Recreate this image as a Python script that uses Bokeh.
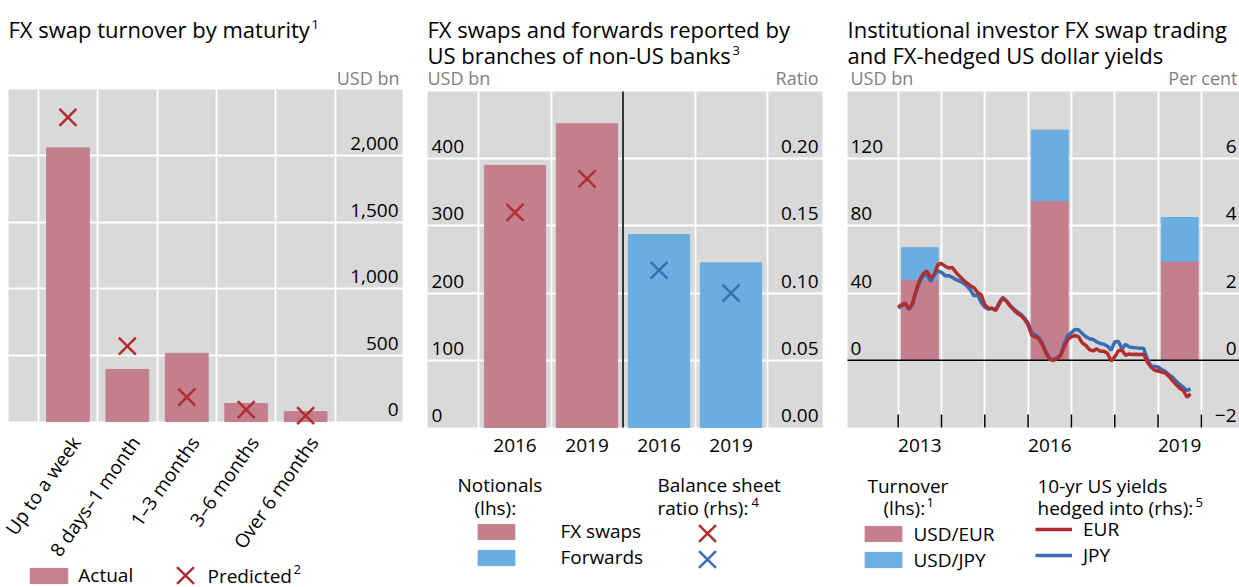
import math
import pandas as pd
from bokeh.plotting import figure
from bokeh.models import Range1d, FixedTicker, Grid, Label, Legend, LegendItem, BoxAnnotation
from bokeh.layouts import row
from bokeh.embed import file_html
from bokeh.resources import INLINE
from bokeh.core.properties import value

FONT = "Open Sans"
PINK = "#C47F8F"
BLUE = "#6AADE0"
RED = "#B22E2E"
DBLUE = "#3B6DB5"
BG = "#D9D9D9"
GREY_TXT = "#7F7F7F"

# ---------------- data ----------------
# Panel 1
maturities = ["Up to a week", "8 days\u20131 month", "1\u20133 months", "3\u20136 months", "Over 6 months"]
actual = [2060, 392, 513, 136, 75]
predicted = [2290, 568, 183, 90, 45]
p1_ticks = [0, 500, 1000, 1500, 2000]

# Panel 2
years2 = ["2016", "2019"]
fx_swaps = [390, 452]
forwards = [287, 245]
ratio_swaps = [0.160, 0.185]
ratio_forwards = [0.117, 0.100]
p2_left_ticks = [0, 100, 200, 300, 400]
p2_right_ticks = [0.00, 0.05, 0.10, 0.15, 0.20]

# Panel 3
survey_years = [2013, 2016, 2019]
turnover_eur = [48, 95, 59]
turnover_jpy = [19, 42, 26]
yield_start = "2013-01"
yield_eur = [1.58, 1.66, 1.70, 1.52, 1.70, 2.10, 2.40, 2.58, 2.66, 2.45,
             2.55, 2.85, 2.88, 2.80, 2.75, 2.76, 2.62, 2.50, 2.40, 2.30,
             2.22, 2.16, 2.02, 1.95, 1.65, 1.55, 1.55, 1.48, 1.68, 1.85,
             1.76, 1.62, 1.50, 1.40, 1.33, 1.22, 1.05, 0.74, 0.70, 0.64,
             0.45, 0.20, 0.02, 0.00, 0.05, 0.13, 0.40, 0.62, 0.70, 0.74,
             0.70, 0.52, 0.44, 0.32, 0.28, 0.34, 0.27, 0.27, 0.20, -0.02,
             0.10, 0.28, 0.30, 0.15, 0.19, 0.17, 0.18, 0.17, 0.18, -0.05,
             -0.20, -0.29, -0.32, -0.35, -0.38, -0.48, -0.60, -0.72, -0.83, -0.90,
             -1.10, -1.00]
yield_jpy = [1.55, 1.63, 1.67, 1.50, 1.68, 2.05, 2.35, 2.52, 2.55, 2.35,
             2.55, 2.66, 2.62, 2.52, 2.52, 2.47, 2.40, 2.36, 2.30, 2.22,
             2.10, 1.92, 1.95, 1.72, 1.58, 1.52, 1.55, 1.50, 1.72, 1.88,
             1.76, 1.63, 1.53, 1.44, 1.37, 1.26, 1.10, 0.82, 0.76, 0.68,
             0.50, 0.25, 0.05, 0.02, 0.08, 0.16, 0.50, 0.74, 0.82, 0.92,
             0.90, 0.80, 0.70, 0.64, 0.62, 0.55, 0.50, 0.48, 0.42, 0.30,
             0.55, 0.56, 0.35, 0.47, 0.40, 0.38, 0.37, 0.36, 0.36, 0.05,
             -0.17, -0.18, -0.20, -0.28, -0.33, -0.43, -0.50, -0.62, -0.72, -0.80,
             -0.90, -0.85]
p3_left_ticks = [0, 40, 80, 120]
p3_right_ticks = [-2, 0, 2, 4, 6]
p3_year_labels = [2013, 2016, 2019]

# ---------------- helpers ----------------
H = 587


class Panel:
    """A figure whose frame is the whole canvas; the grey plot area is mapped to data."""

    def __init__(self, c0, c1, px0, px1, py0, py1, xd0, xd1, yd0, yd1):
        self.c0, self.px0, self.py0, self.py1 = c0, px0, py0, py1
        self.xd0, self.xd1, self.yd0, self.yd1 = xd0, xd1, yd0, yd1
        self.ux = (xd1 - xd0) / (px1 - px0)
        self.uy = (yd1 - yd0) / (py1 - py0)
        xr = Range1d(xd0 - (px0 - c0) * self.ux, xd1 + (c1 - px1) * self.ux)
        yr = Range1d(yd0 - (H - py1) * self.uy, yd1 + py0 * self.uy)
        p = figure(width=c1 - c0, height=H, x_range=xr, y_range=yr, toolbar_location=None,
                   output_backend="svg", x_axis_type=None, y_axis_type=None, min_border=0)
        p.background_fill_color = "white"
        p.border_fill_color = "white"
        p.outline_line_color = None
        p.add_layout(BoxAnnotation(left=xd0, right=xd1, bottom=yd0, top=yd1, fill_color=BG,
                                   fill_alpha=1.0, line_color=None, level="underlay"))
        self.p = p

    def extra(self, name, r0, r1):
        ur = (r1 - r0) / (self.yd1 - self.yd0) * self.uy
        self.p.extra_y_ranges = {name: Range1d(r0 - (H - self.py1) * ur, r1 + self.py0 * ur)}

    def fx(self, x):
        return self.xd0 + (x - self.px0) * self.ux

    def fy(self, y):
        return self.yd0 + (self.py1 - y) * self.uy

    def grid(self, dim, ticks, color="white", width=1.8):
        self.p.add_layout(Grid(dimension=dim, ticker=FixedTicker(ticks=ticks),
                               grid_line_color=color, grid_line_width=width))

    def txt(self, x, y, text, size="19px", color="black", align="left", baseline="middle", angle=0):
        self.p.add_layout(Label(x=self.fx(x), y=self.fy(y), text=text, text_font=FONT,
                                text_font_size=size, text_color=color, text_align=align,
                                text_baseline=baseline, angle=angle))

    def legend(self, items, x1, top, height, gw, gh, standoff, spacing=0, lh=26):
        leg = Legend(items=[LegendItem(label=l, renderers=[r]) for l, r in items],
                     location=(x1 - self.c0, H - (top + height)), orientation="vertical",
                     glyph_width=gw, glyph_height=gh, label_standoff=standoff, label_height=lh,
                     padding=0, margin=0, spacing=spacing, border_line_color=None,
                     background_fill_alpha=0, label_text_font=FONT, label_text_font_size="19px",
                     label_text_color="black")
        self.p.add_layout(leg)


def tick_text(P, xs, ys, labels, align, xoff, range_name="default"):
    P.p.text(x=xs, y=ys, text=labels, y_range_name=range_name, text_font=value(FONT),
             text_font_size="19px", text_align=align, text_baseline="middle",
             x_offset=xoff, y_offset=-12, text_color="black")


# ---------------- panel 1 ----------------
P1 = Panel(0, 423, 8, 402, 89, 421, 0, 6.63, 0, 2500)
p1 = P1.p
xs1 = list(range(1, len(maturities) + 1))
P1.grid(0, [x - 0.5 for x in xs1] + [xs1[-1] + 0.5])
P1.grid(1, p1_ticks[1:])
r_act = p1.vbar(x=xs1, top=actual, width=0.72, color=PINK)
r_pred = p1.scatter(x=xs1, y=predicted, marker="x", size=24, line_color=RED, line_width=2.5)
tick_text(P1, [P1.xd1] * len(p1_ticks), p1_ticks, [f"{v:,}" for v in p1_ticks], "right", -4)
P1.txt(8, 28, "FX swap turnover by maturity", size="22px")
P1.txt(311, 24, "1", size="13px")
P1.txt(399, 77, "USD bn", size="18px", color=GREY_TXT, align="right")
for x, name in zip(xs1, maturities):
    p1.add_layout(Label(x=x, y=P1.fy(438), x_offset=8, text=name, angle=math.radians(55),
                        text_font=FONT, text_font_size="19px", text_align="right",
                        text_baseline="middle", text_color="black"))
P1.legend([("Actual", r_act)], 25.3, 562, 26, 47, 19, 6)
P1.legend([(" ", r_pred)], 155, 545, 60, 60, 60, 0)
P1.txt(207, 575, "Predicted")
P1.txt(293, 569, "2", size="13px")

# ---------------- panel 2 ----------------
P2 = Panel(423, 843, 427, 822, 91, 427, -0.215, 5.27, 0, 500)
p2 = P2.p
P2.extra("ratio", 0, 0.25)
xs_sw = [1, 2]
xs_fw = [3, 4]
P2.grid(0, [0.5, 1.5, 3.5, 4.5])
P2.grid(1, p2_left_ticks[1:])
p2.segment(x0=[2.5], y0=[P2.yd0], x1=[2.5], y1=[P2.yd1], line_color="black", line_width=1.5)
r_sw = p2.vbar(x=xs_sw, top=fx_swaps, width=0.85, color=PINK)
r_fw = p2.vbar(x=xs_fw, top=forwards, width=0.85, color=BLUE)
r_rsw = p2.scatter(x=xs_sw, y=ratio_swaps, y_range_name="ratio", marker="x", size=24,
                   line_color=RED, line_width=2.5)
r_rfw = p2.scatter(x=xs_fw, y=ratio_forwards, y_range_name="ratio", marker="x", size=24,
                   line_color=DBLUE, line_width=2.5)
tick_text(P2, [P2.xd0] * len(p2_left_ticks), p2_left_ticks, [str(v) for v in p2_left_ticks], "left", 4)
tick_text(P2, [P2.xd1] * len(p2_right_ticks), p2_right_ticks, [f"{v:.2f}" for v in p2_right_ticks],
          "right", -4, "ratio")
for x, yl in zip(xs_sw + xs_fw, years2 + years2):
    p2.add_layout(Label(x=x, y=P2.fy(445), text=yl, text_font=FONT, text_font_size="19px",
                        text_align="center", text_baseline="middle", text_color="black"))
P2.txt(427, 28, "FX swaps and forwards reported by", size="22px")
P2.txt(427, 54, "US branches of non-US banks", size="22px")
P2.txt(732, 50, "3", size="13px")
P2.txt(427, 77, "USD bn", size="18px", color=GREY_TXT)
P2.txt(818, 77, "Ratio", size="18px", color=GREY_TXT, align="right")
P2.txt(457, 484, "Notionals")
P2.txt(474, 507, "(lhs):")
P2.txt(657, 484, "Balance sheet")
P2.txt(657, 507, "ratio (rhs):")
P2.txt(751, 502, "4", size="13px")
P2.legend([("FX swaps", r_sw), ("Forwards", r_fw)], 473.4, 519, 51, 46, 19, 41, -1)
P2.legend([(" ", r_rsw)], 677, 503, 60, 60, 60, 0)
P2.legend([(" ", r_rfw)], 677, 529, 60, 60, 60, 0)

# ---------------- panel 3 ----------------
P3 = Panel(843, 1239, 847, 1239, 91, 427, 2011.83, 2020.88, -40, 160)
p3 = P3.p
P3.extra("pct", -2, 8)
year_ticks = list(range(2013, 2021))
P3.grid(0, year_ticks)
P3.grid(1, p3_left_ticks[1:])
xs3 = [y + 0.5 for y in survey_years]
tot = [a + b for a, b in zip(turnover_eur, turnover_jpy)]
r_eur = p3.vbar(x=xs3, bottom=0, top=turnover_eur, width=0.85, color=PINK)
r_jpy = p3.vbar(x=xs3, bottom=turnover_eur, top=tot, width=0.85, color=BLUE)
p3.segment(x0=[P3.xd0], y0=[0], x1=[P3.xd1], y1=[0], line_color="black", line_width=1.5)
tick_len = 13 * P3.uy
p3.segment(x0=year_ticks, y0=[P3.yd0] * len(year_ticks), x1=year_ticks,
           y1=[P3.yd0 + tick_len] * len(year_ticks), line_color="black", line_width=1.5)
dates = pd.date_range(yield_start, periods=len(yield_eur), freq="MS")
dec = [d.year + (d.month - 1) / 12 for d in dates]
l_jpy = p3.line(x=dec, y=yield_jpy, y_range_name="pct", line_color=DBLUE, line_width=3.5)
l_eur = p3.line(x=dec, y=yield_eur, y_range_name="pct", line_color=RED, line_width=3.5)
tick_text(P3, [P3.xd0] * len(p3_left_ticks), p3_left_ticks, [str(v) for v in p3_left_ticks], "left", 3)
tick_text(P3, [P3.xd1] * len(p3_right_ticks), p3_right_ticks,
          [str(v).replace("-", "\u2212") for v in p3_right_ticks], "right", -3, "pct")
for y in p3_year_labels:
    p3.add_layout(Label(x=y + 0.5, y=P3.fy(445), text=str(y), text_font=FONT, text_font_size="19px",
                        text_align="center", text_baseline="middle", text_color="black"))
P3.txt(847, 28, "Institutional investor FX swap trading", size="22px")
P3.txt(847, 54, "and FX-hedged US dollar yields", size="22px")
P3.txt(850, 77, "USD bn", size="18px", color=GREY_TXT)
P3.txt(1237, 77, "Per cent", size="18px", color=GREY_TXT, align="right")
P3.txt(867, 485, "Turnover")
P3.txt(883, 507, "(lhs):")
P3.txt(926, 502, "1", size="13px")
P3.txt(1037, 485, "10-yr US yields")
P3.txt(1037, 507, "hedged into (rhs):")
P3.txt(1195, 502, "5", size="13px")
P3.legend([("USD/EUR", r_eur), ("USD/JPY", r_jpy)], 860.4, 521.5, 51, 46, 19, 7, -1)
P3.legend([("EUR", l_eur), ("JPY", l_jpy)], 1035, 517, 51, 37, 26, 11, -1)

layout = row(p1, p2, p3, spacing=0)
open("out.html", "w").write(file_html(layout, INLINE))
